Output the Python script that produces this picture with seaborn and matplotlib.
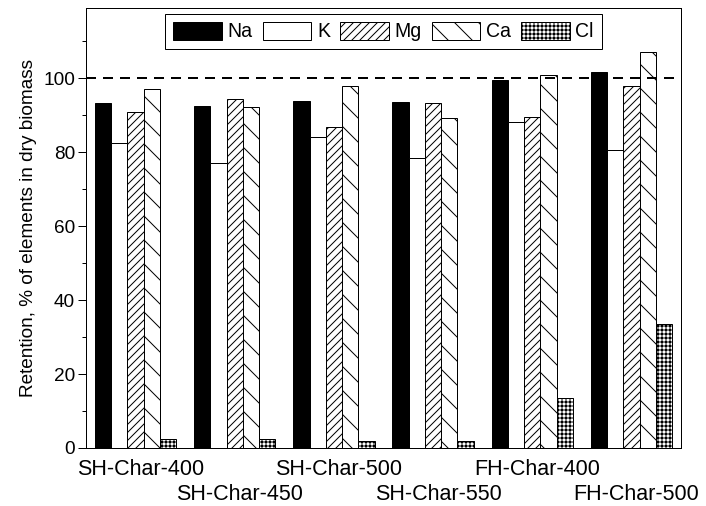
import matplotlib
matplotlib.use("Agg")
import matplotlib.pyplot as plt
import matplotlib.transforms as mtransforms
import numpy as np
import pandas as pd
import seaborn as sns

# Retention of inorganic elements in chars (% of the amount in dry biomass)
samples = ["SH-Char-400", "SH-Char-450", "SH-Char-500",
           "SH-Char-550", "FH-Char-400", "FH-Char-500"]
elements = ["Na", "K", "Mg", "Ca", "Cl"]
na = [93.2, 92.6, 93.8, 93.5, 99.5, 101.6]
k = [82.5, 77.0, 84.0, 78.5, 88.2, 80.5]
mg = [91.0, 94.4, 86.7, 93.3, 89.6, 98.0]
ca = [97.0, 92.2, 97.8, 89.2, 100.9, 107.0]
cl = [2.4, 2.4, 2.0, 2.0, 13.5, 33.5]

fills = ["black", "white", "white", "white", "white"]
hatches = [None, None, "///", "\\", "+++"]

df = pd.DataFrame({
    "sample": np.repeat(samples, len(elements)),
    "element": elements * len(samples),
    "value": np.ravel(np.column_stack([na, k, mg, ca, cl])),
})

sns.set_style("ticks")
plt.rcParams["font.family"] = ["Liberation Sans", "DejaVu Sans"]
plt.rcParams.update({
    "text.color": "black", "axes.labelcolor": "black",
    "xtick.color": "black", "ytick.color": "black",
    "hatch.linewidth": 1.0, "hatch.color": "black",
})

DPI = 72
fig = plt.figure(figsize=(706 / DPI, 506 / DPI), dpi=DPI)
ax = fig.add_axes([86 / 706, 58 / 506, 595 / 706, 440 / 506])

sns.barplot(data=df, x="sample", y="value", hue="element",
            order=samples, hue_order=elements,
            palette=dict(zip(elements, fills)), saturation=1,
            width=0.82, gap=0, edgecolor="black", linewidth=1.0,
            legend=False, ax=ax)

for cont, h in zip(ax.containers, hatches):
    for bar in cont:
        if h:
            bar.set_hatch(h)

ax.axhline(100, color="black", lw=2, dashes=(5, 3.5), zorder=5)

ax.set_xlim(-0.5, 5.5)
ax.set_ylim(0, 119)
ax.set_yticks(np.arange(0, 101, 20))
ax.set_yticks(np.arange(10, 119, 10), minor=True)
ax.tick_params(axis="y", which="major", direction="out", length=8, width=1,
               labelsize=19, pad=3)
ax.tick_params(axis="y", which="minor", direction="out", length=4, width=1)

# sample names on two staggered rows
ax.set_xticks(range(len(samples)))
ax.set_xticklabels(samples, fontsize=21.5)
ax.tick_params(axis="x", length=0)
shift = mtransforms.ScaledTranslation(5 / DPI, 0, fig.dpi_scale_trans)
for i, tick in enumerate(ax.xaxis.get_major_ticks()):
    tick.set_pad(11 if i % 2 == 0 else 36)
    tick.label1.set_transform(tick.label1.get_transform() + shift)

ax.set_xlabel("")
ax.set_ylabel("Retention, % of elements in dry biomass", fontsize=19, labelpad=6)

for sp in ax.spines.values():
    sp.set_visible(True)
    sp.set_color("black")
    sp.set_linewidth(1)

leg = ax.legend(ax.containers, elements, loc="upper center", ncol=5,
                fontsize=19.5, frameon=True, fancybox=False, framealpha=1,
                edgecolor="black", handlelength=2.5, handleheight=1.05,
                handletextpad=0.3, columnspacing=0.5, borderpad=0.4,
                borderaxespad=0.3)
leg.get_frame().set_linewidth(1)

fig.savefig("out.png", dpi=DPI)
